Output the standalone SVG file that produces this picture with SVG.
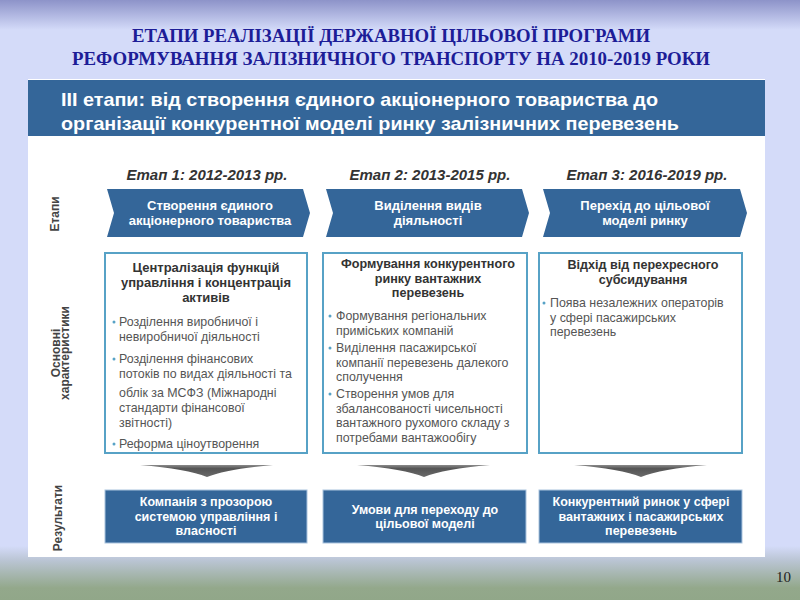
<svg xmlns="http://www.w3.org/2000/svg" width="800" height="600" viewBox="0 0 800 600">
<defs>
<linearGradient id="bg" x1="0" y1="0" x2="0" y2="1">
<stop offset="0" stop-color="#8d93c9"/>
<stop offset="0.05" stop-color="#d4dbf9"/>
<stop offset="0.91" stop-color="#d4dbf9"/>
<stop offset="0.935" stop-color="#b9c4d2"/>
<stop offset="0.98" stop-color="#93a88b"/>
<stop offset="1" stop-color="#91a789"/>
</linearGradient>
<linearGradient id="arr" x1="0" y1="0" x2="0" y2="1">
<stop offset="0" stop-color="#8a8a8a"/>
<stop offset="0.3" stop-color="#555"/>
<stop offset="1" stop-color="#6a6a6a"/>
</linearGradient>
<path id="dn" d="M-67,0 L66,0 Q20,4 0,12 Q-20,4 -67,0 Z"/>
</defs>
<style>
.title{font-family:"Liberation Serif","Times New Roman",serif;font-weight:bold;font-size:18px;fill:#1d1d97;text-anchor:middle}
.ban{font-family:"Liberation Sans",Arial,sans-serif;font-weight:bold;font-size:19px;fill:#fff}
.stage{font-family:"Liberation Sans",Arial,sans-serif;font-weight:bold;font-style:italic;font-size:15px;fill:#333;text-anchor:middle}
.chev{fill:#346699}
.ct{font-family:"Liberation Sans",Arial,sans-serif;font-weight:bold;font-size:13px;fill:#fff;text-anchor:middle}
.side{font-family:"Liberation Sans",Arial,sans-serif;font-weight:bold;font-size:12px;fill:#444;text-anchor:middle}
.box{fill:#fff;stroke:#57a2c6;stroke-width:2}
.bt{font-family:"Liberation Sans",Arial,sans-serif;font-weight:bold;font-size:12.6px;fill:#333;text-anchor:middle}
.bt1{font-size:13px}
.tx{font-family:"Liberation Sans",Arial,sans-serif;font-size:12.4px;fill:#555}
.bul{fill:#57a2c6}
.res{fill:#346699;stroke:#a9c3de;stroke-width:1}
.rt{font-family:"Liberation Sans",Arial,sans-serif;font-weight:bold;font-size:12.5px;fill:#fff;text-anchor:middle}
.pn{font-family:"Liberation Serif","Times New Roman",serif;font-size:15px;fill:#222;text-anchor:end}
</style>
<rect x="0" y="0" width="800" height="600" fill="url(#bg)"/>
<text class="title" x="391" y="42" textLength="518" lengthAdjust="spacingAndGlyphs">ЕТАПИ РЕАЛІЗАЦІЇ ДЕРЖАВНОЇ ЦІЛЬОВОЇ ПРОГРАМИ</text>
<text class="title" x="391" y="65" textLength="638" lengthAdjust="spacingAndGlyphs">РЕФОРМУВАННЯ ЗАЛІЗНИЧНОГО ТРАНСПОРТУ НА 2010-2019 РОКИ</text>
<rect x="28" y="79" width="737" height="478" fill="#fff"/>
<g id="banner">
<rect x="28" y="80" width="737" height="56" fill="#346699"/>
<text class="ban" x="61" y="106" textLength="597" lengthAdjust="spacingAndGlyphs">ІІІ етапи: від створення єдиного акціонерного товариства до</text>
<text class="ban" x="61" y="130" textLength="618" lengthAdjust="spacingAndGlyphs">організації конкурентної моделі ринку залізничних перевезень</text>
</g>
<g id="labels">
<text class="side" transform="translate(59,214) rotate(-90)">Етапи</text>
<text class="side" transform="translate(60,353) rotate(-90)">Основні</text>
<text class="side" transform="translate(69,353) rotate(-90)">характеристики</text>
<text class="side" transform="translate(62,518) rotate(-90)">Результати</text>
</g>
<g id="stage1">
<text class="stage" x="207" y="180">Етап 1: 2012-2013 рр.</text>
<polygon class="chev" points="107,189 303,189 310,213 303,237 107,237 114,213"/>
<text class="ct" x="210" y="210">Створення єдиного</text>
<text class="ct" x="210" y="225">акціонерного товариства</text>
</g>
<g id="stage2">
<text class="stage" x="430" y="180">Етап 2: 2013-2015 рр.</text>
<polygon class="chev" points="326,189 522,189 529,213 522,237 326,237 333,213"/>
<text class="ct" x="428" y="210">Виділення видів</text>
<text class="ct" x="428" y="225">діяльності</text>
</g>
<g id="stage3">
<text class="stage" x="647" y="180">Етап 3: 2016-2019 рр.</text>
<polygon class="chev" points="543,189 740,189 747,213 740,237 543,237 550,213"/>
<text class="ct" x="645" y="210">Перехід до цільової</text>
<text class="ct" x="645" y="225">моделі ринку</text>
</g>
<g id="box1">
<rect class="box" x="105" y="253" width="202" height="200"/>
<text class="bt bt1" x="206" y="272">Централізація функцій</text>
<text class="bt bt1" x="206" y="287">управління і концентрація</text>
<text class="bt bt1" x="206" y="302">активів</text>
<circle class="bul" cx="114" cy="322" r="1.5"/>
<text class="tx" x="119" y="326">Розділення виробничої і</text>
<text class="tx" x="119" y="341">невиробничої діяльності</text>
<circle class="bul" cx="114" cy="359" r="1.5"/>
<text class="tx" x="119" y="363">Розділення фінансових</text>
<text class="tx" x="119" y="378">потоків по видах діяльності та</text>
<text class="tx" x="119" y="397">облік за МСФЗ (Міжнародні</text>
<text class="tx" x="119" y="412">стандарти фінансової</text>
<text class="tx" x="119" y="427">звітності)</text>
<circle class="bul" cx="114" cy="444" r="1.5"/>
<text class="tx" x="119" y="448">Реформа ціноутворення</text>
</g>
<g id="box2">
<rect class="box" x="323" y="253" width="204" height="200"/>
<text class="bt" x="428" y="268">Формування конкурентного</text>
<text class="bt" x="428" y="282.5">ринку вантажних</text>
<text class="bt" x="428" y="297">перевезень</text>
<circle class="bul" cx="330" cy="316" r="1.5"/>
<text class="tx" x="336" y="320">Формування регіональних</text>
<text class="tx" x="336" y="334.5">приміських компаній</text>
<circle class="bul" cx="330" cy="348" r="1.5"/>
<text class="tx" x="336" y="352">Виділення пасажирської</text>
<text class="tx" x="336" y="366.5">компанії перевезень далекого</text>
<text class="tx" x="336" y="381">сполучення</text>
<circle class="bul" cx="330" cy="394" r="1.5"/>
<text class="tx" x="336" y="398">Створення умов для</text>
<text class="tx" x="336" y="412.5">збалансованості чисельності</text>
<text class="tx" x="336" y="427">вантажного рухомого складу з</text>
<text class="tx" x="336" y="441.5">потребами вантажообігу</text>
</g>
<g id="box3">
<rect class="box" x="539" y="253" width="203" height="200"/>
<text class="bt" x="643" y="269">Відхід від перехресного</text>
<text class="bt" x="643" y="283.5">субсидування</text>
<circle class="bul" cx="544" cy="303" r="1.5"/>
<text class="tx" x="550" y="307">Поява незалежних операторів</text>
<text class="tx" x="550" y="321.5">у сфері пасажирських</text>
<text class="tx" x="550" y="336">перевезень</text>
</g>
<g id="connectors">
<use href="#dn" x="207" y="465" fill="url(#arr)"/>
<use href="#dn" x="424" y="465" fill="url(#arr)"/>
<use href="#dn" x="641" y="465" fill="url(#arr)"/>
</g>
<g id="result1">
<rect class="res" x="105" y="490" width="202" height="53"/>
<text class="rt" x="206" y="506">Компанія з прозорою</text>
<text class="rt" x="206" y="520.5">системою управління і</text>
<text class="rt" x="206" y="535">власності</text>
</g>
<g id="result2">
<rect class="res" x="323" y="490" width="203" height="53"/>
<text class="rt" x="425" y="513.5">Умови для переходу до</text>
<text class="rt" x="425" y="528">цільової моделі</text>
</g>
<g id="result3">
<rect class="res" x="539" y="490" width="203" height="53"/>
<text class="rt" x="641" y="506">Конкурентний ринок у сфері</text>
<text class="rt" x="641" y="520.5">вантажних і пасажирських</text>
<text class="rt" x="641" y="535">перевезень</text>
</g>
<text class="pn" x="791" y="582">10</text>
</svg>
